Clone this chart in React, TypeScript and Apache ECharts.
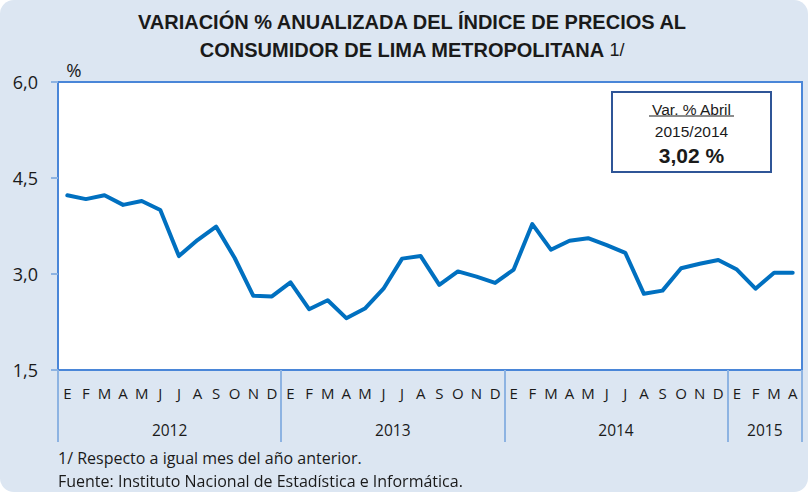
import React, { useEffect, useRef } from "react";
import * as echarts from "echarts";

const monthLetters = ["E", "F", "M", "A", "M", "J", "J", "A", "S", "O", "N", "D"];
const years = ["2012", "2013", "2014", "2015"];
const monthsPerYear = [12, 12, 12, 4];
const values2012 = [4.23, 4.17, 4.23, 4.08, 4.14, 4.0, 3.28, 3.53, 3.74, 3.25, 2.66, 2.65];
const values2013 = [2.87, 2.45, 2.59, 2.31, 2.46, 2.77, 3.24, 3.28, 2.83, 3.04, 2.96, 2.86];
const values2014 = [3.07, 3.78, 3.38, 3.52, 3.56, 3.45, 3.33, 2.69, 2.74, 3.09, 3.16, 3.22];
const values2015 = [3.07, 2.77, 3.02, 3.02];
const yMin = 1.5;
const yMax = 6.0;
const yStep = 1.5;

const titleLine1 = "VARIACIÓN % ANUALIZADA DEL ÍNDICE DE PRECIOS AL";
const titleLine2 = "CONSUMIDOR DE LIMA METROPOLITANA";
const titleNote = "1/";
const unitLabel = "%";
const boxLine1 = "Var. % Abril";
const boxLine2 = "2015/2014";
const boxLine3 = "3,02 %";
const footnote1 = "1/ Respecto a igual mes del año anterior.";
const footnote2 = "Fuente: Instituto Nacional de Estadística e Informática.";

export default function App() {
  const ref = useRef<HTMLDivElement>(null);

  useEffect(() => {
    if (!ref.current) return;
    const chart = echarts.init(ref.current, undefined, { renderer: "svg" });

    const allValues = [...values2012, ...values2013, ...values2014, ...values2015];
    const categories: string[] = [];
    const yearStarts: number[] = [];
    let idx = 0;
    years.forEach((y, yi) => {
      yearStarts.push(idx);
      for (let m = 0; m < monthsPerYear[yi]; m++) {
        categories.push(`${y}|${monthLetters[m]}`);
        idx++;
      }
    });
    const total = categories.length;
    const yearCenters = years.map((_, yi) => yearStarts[yi] + monthsPerYear[yi] / 2);

    const blue = "#0070c0";
    const frame = "#4a86d8";
    const light = "#8db3e2";
    const textColor = "#1a1a1a";
    const sans = "'Open Sans', 'Noto Sans', sans-serif";
    const arial = "'Liberation Sans', Arial, sans-serif";
    const narrow = "'Liberation Sans Narrow', 'Liberation Sans', sans-serif";

    chart.setOption({
      animation: false,
      backgroundColor: "transparent",
      grid: {
        left: 58,
        top: 82,
        right: 6,
        bottom: 122,
        show: true,
        backgroundColor: "#ffffff",
        borderColor: frame,
        borderWidth: 2,
      },
      xAxis: [
        {
          type: "category",
          data: categories,
          boundaryGap: true,
          axisLine: { show: true, lineStyle: { color: frame, width: 2 } },
          axisTick: {
            show: true,
            length: 72,
            interval: (i: number) => yearStarts.includes(i),
            lineStyle: { color: light, width: 2 },
          },
          axisLabel: {
            interval: 0,
            margin: 15,
            fontSize: 15,
            fontFamily: sans,
            color: textColor,
            formatter: (v: string) => v.split("|")[1],
          },
          splitLine: { show: false },
        },
        {
          type: "value",
          position: "bottom",
          min: 0,
          max: total,
          interval: 1,
          axisLine: { show: false },
          axisTick: { show: false },
          splitLine: { show: false },
          axisLabel: {
            margin: 52,
            fontSize: 15.5,
            fontFamily: sans,
            color: textColor,
            formatter: (v: number) => {
              const k = yearCenters.findIndex((c) => Math.abs(c - v) < 1e-6);
              return k >= 0 ? years[k] : "";
            },
          },
        },
      ],
      yAxis: {
        type: "value",
        min: yMin,
        max: yMax,
        interval: yStep,
        axisLine: { show: true, lineStyle: { color: frame, width: 2 } },
        axisTick: { show: true, length: 7, lineStyle: { color: light, width: 2 } },
        splitLine: { show: false },
        axisLabel: {
          margin: 20,
          fontSize: 18,
          fontFamily: sans,
          color: textColor,
          formatter: (v: number) => v.toFixed(1).replace(".", ","),
        },
      },
      series: [
        {
          type: "line",
          xAxisIndex: 0,
          yAxisIndex: 0,
          data: allValues,
          symbol: "none",
          lineStyle: { color: blue, width: 4, join: "round", cap: "round" },
        },
      ],
      graphic: [
        {
          type: "text",
          x: 412,
          y: 8,
          style: {
            text: `{b|${titleLine1}}\n{b|${titleLine2}}{n| ${titleNote}}`,
            align: "center",
            rich: {
              b: {
                fontFamily: narrow,
                fontWeight: "bold",
                fontSize: 20,
                lineHeight: 28,
                fill: textColor,
              },
              n: {
                fontFamily: narrow,
                fontSize: 18,
                lineHeight: 28,
                fill: textColor,
              },
            },
          },
        },
        {
          type: "text",
          x: 74,
          y: 69,
          style: {
            text: unitLabel,
            align: "center",
            verticalAlign: "middle",
            fontFamily: sans,
            fontSize: 18.5,
            fill: textColor,
          },
        },
        {
          type: "rect",
          shape: { x: 612, y: 92, width: 159, height: 80 },
          style: { fill: "#ffffff", stroke: "#2f5597", lineWidth: 2 },
        },
        {
          type: "text",
          x: 691.5,
          y: 109,
          style: {
            text: boxLine1,
            align: "center",
            verticalAlign: "middle",
            fontFamily: arial,
            fontSize: 15.5,
            fill: textColor,
          },
        },
        {
          type: "line",
          shape: { x1: 649, y1: 116, x2: 734, y2: 116 },
          style: { stroke: textColor, lineWidth: 1.2 },
        },
        {
          type: "text",
          x: 691.5,
          y: 131,
          style: {
            text: boxLine2,
            align: "center",
            verticalAlign: "middle",
            fontFamily: arial,
            fontSize: 15.5,
            fill: textColor,
          },
        },
        {
          type: "text",
          x: 691.5,
          y: 155,
          style: {
            text: boxLine3,
            align: "center",
            verticalAlign: "middle",
            fontFamily: arial,
            fontSize: 21,
            fontWeight: "bold",
            fill: textColor,
          },
        },
        {
          type: "text",
          x: 58,
          y: 458,
          style: {
            text: footnote1,
            verticalAlign: "middle",
            fontFamily: sans,
            fontSize: 16,
            fill: textColor,
          },
        },
        {
          type: "text",
          x: 58,
          y: 481,
          style: {
            text: footnote2,
            verticalAlign: "middle",
            fontFamily: sans,
            fontSize: 16,
            fill: textColor,
          },
        },
      ],
    });

    return () => chart.dispose();
  }, []);

  return (
    <div
      ref={ref}
      style={{
        position: "fixed",
        left: 0,
        top: 0,
        width: 808,
        height: 492,
        background: "#dce6f2",
        borderRadius: 14,
      }}
    />
  );
}
